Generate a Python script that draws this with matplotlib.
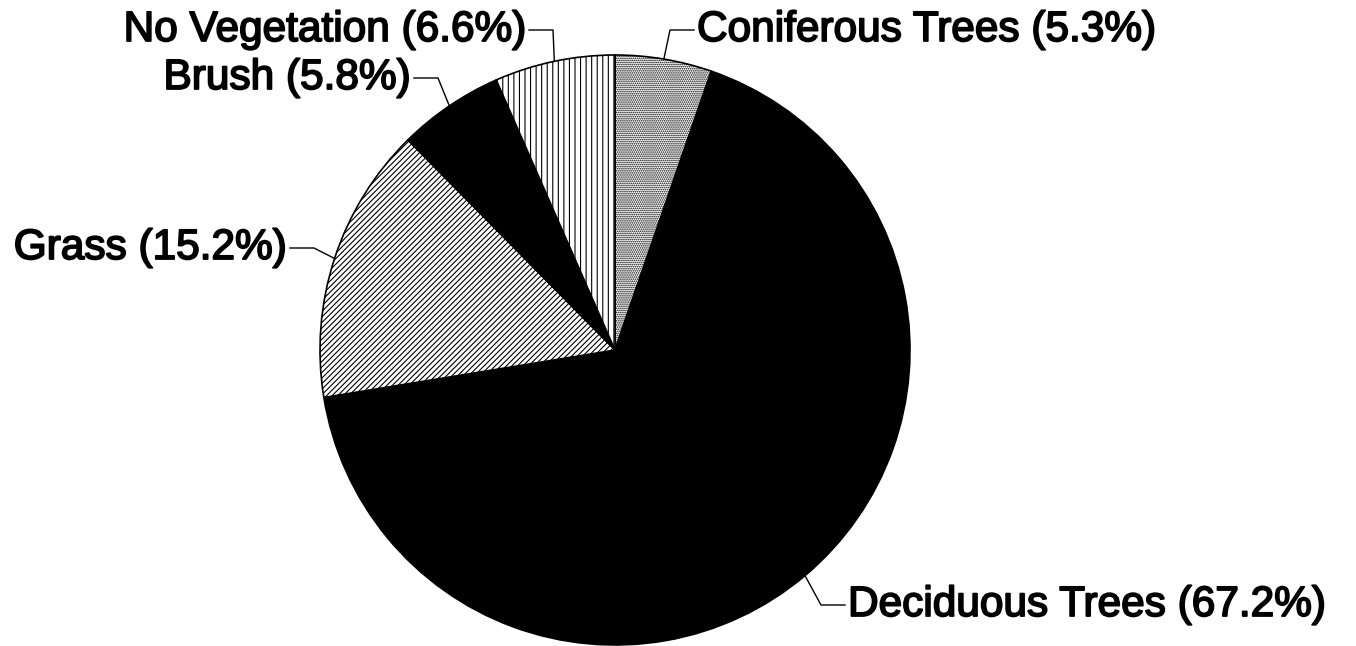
import numpy as np
import matplotlib
matplotlib.use("Agg")
import matplotlib.pyplot as plt
import matplotlib.patheffects as pe

# data
categories = ["Coniferous Trees", "Deciduous Trees", "Grass", "Brush", "No Vegetation"]
shares = [5.3, 67.2, 15.2, 5.8, 6.6]
hatches = ["........", "", "//////", "", "|||"]
faces = ["white", "black", "white", "black", "white"]

# label layout in pixels: (text edge x, text y, side)
label_pos = [(697, 30, "left"), (848, 605, "left"), (287, 248, "right"),
             (411, 78, "right"), (526, 30, "right")]

W, H = 1356, 646
plt.rcParams["font.family"] = ["Liberation Sans", "DejaVu Sans"]
plt.rcParams["hatch.linewidth"] = 0.8

fig = plt.figure(figsize=(W / 100, H / 100), dpi=100)
ax = fig.add_axes([0, 0, 1, 1])

cx, cy, r = 615, H - 350, 295
wedges, _ = ax.pie(shares, startangle=90, counterclock=False,
                   center=(cx, cy), radius=r, colors=faces,
                   wedgeprops=dict(edgecolor="black", linewidth=1.2))
for w, h in zip(wedges, hatches):
    if h:
        w.set_hatch(h)

for w, name, val, (tx, ty, side) in zip(wedges, categories, shares, label_pos):
    mid = np.deg2rad((w.theta1 + w.theta2) / 2)
    ax_, ay_ = cx + r * np.cos(mid), cy + r * np.sin(mid)
    ty = H - ty
    if side == "left":
        xs = [ax_, tx - 27, tx - 3]
    else:
        xs = [ax_, tx + 27, tx + 3]
    ax.plot(xs, [ay_, ty, ty], color="black", lw=1.0)
    ax.text(tx, ty, f"{name} ({val}%)", ha=side, va="center",
            fontsize=30.5, color="black",
            path_effects=[pe.withStroke(linewidth=1.3, foreground="black")])

ax.set_xlim(0, W)
ax.set_ylim(0, H)
ax.set_aspect("auto")
ax.axis("off")
fig.savefig("out.png", dpi=100)
